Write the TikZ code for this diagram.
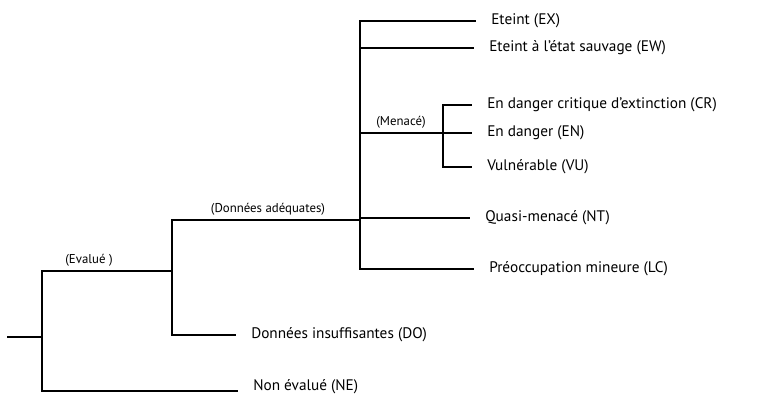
\documentclass[tikz,border=0pt]{standalone}
\usepackage{fontspec}
\setmainfont{PT Sans}
\tikzset{
    branch/.style={line width=0.9pt},
    leaf/.style={anchor=west, inner xsep=8.5pt, inner ysep=0pt, font=\fontsize{8.7}{10}\selectfont},
    tag/.style={anchor=south, inner sep=1pt, font=\fontsize{7.3}{8}\selectfont}
}
\begin{document}
\begin{tikzpicture}[x=0.02cm, y=-0.02cm]
    \useasboundingbox (0,0) rectangle (757,394);

    % junctions of the tree
    \coordinate (start) at (7,337);
    \coordinate (jroot) at (42,337);
    \coordinate (jeval) at (172,271);
    \coordinate (jadeq) at (360,220);
    \coordinate (jmen) at (443,133);

    % categories
    \node[leaf] (ex) at (476,21) {Eteint (EX)};
    \node[leaf] (ew) at (474,48) {Eteint à l'état sauvage (EW)};
    \node[leaf] (cr) at (472,105) {En danger critique d'extinction (CR)};
    \node[leaf] (en) at (472,133) {En danger (EN)};
    \node[leaf] (vu) at (472,167) {Vulnérable (VU)};
    \node[leaf] (nt) at (470,218) {Quasi-menacé (NT)};
    \node[leaf] (lc) at (474,269) {Préoccupation mineure (LC)};
    \node[leaf] (dd) at (236,335) {Données insuffisantes (DO)};
    \node[leaf, anchor=base west] (ne) at (238,391) {Non évalué (NE)};

    % branches
    \draw[branch] (start) -- (jroot);
    \draw[branch] (jroot) |- (jeval);
    \draw[branch] (jroot) |- (ne.base west);
    \draw[branch] (jeval) |- (jadeq);
    \draw[branch] (jeval) |- (dd.west);
    \foreach \n in {ex,ew,nt,lc}
        \draw[branch] (jadeq) |- (\n.west);
    \draw[branch] (jadeq) |- (jmen);
    \foreach \n in {cr,en,vu}
        \draw[branch] (jmen) |- (\n.west);

    \node[tag] (tev) at (89,268) {(Evalué )};
    \node[tag] (tadq) at (268,217) {(Données adéquates)};
    \node[tag] (tmen) at (401,130) {(Menacé)};
\end{tikzpicture}
\end{document}
